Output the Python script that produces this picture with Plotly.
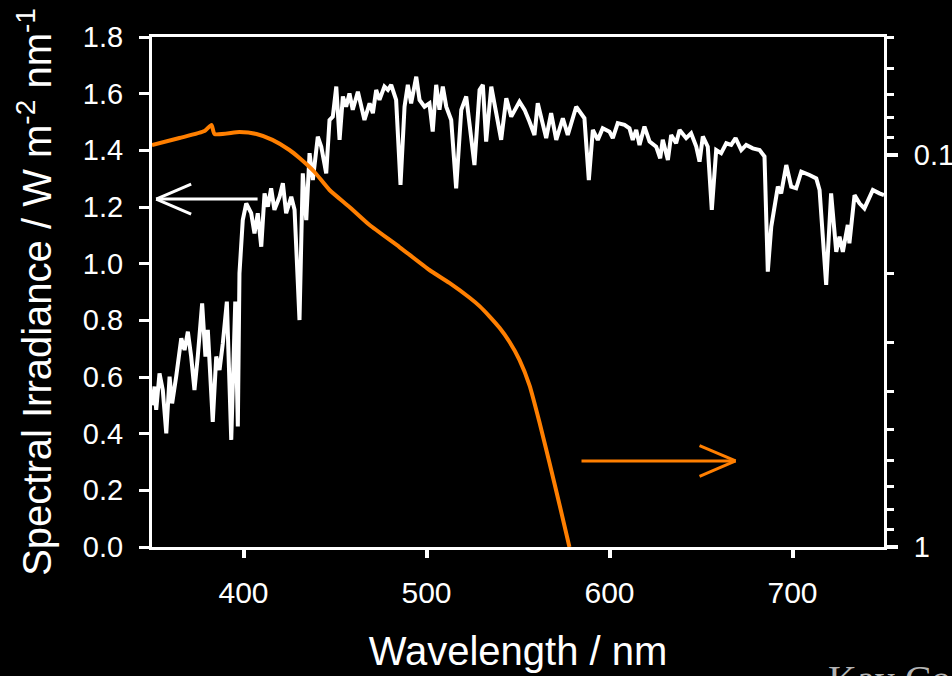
import math
import plotly.graph_objects as go

# ---- data ----
# Solar spectral irradiance (left axis, W m^-2 nm^-1)
irr_wl = [350.0, 351.4, 352.3, 354.1, 355.9, 357.8, 359.6, 361.0, 363.2, 366.0, 367.8, 369.6,
          371.4, 373.2, 375.0, 377.4, 379.2, 380.5, 383.2, 385.1, 386.9, 388.7, 390.9, 393.3,
          395.5, 396.9, 397.8, 398.7, 399.6, 401.5, 404.2, 406.0, 407.8, 409.7, 411.5, 413.3,
          415.1, 416.9, 419.7, 421.5, 423.3, 426.1, 427.9, 430.6, 432.4, 434.3, 436.1, 437.9,
          440.6, 442.5, 445.2, 447.0, 448.8, 450.7, 452.5, 454.3, 456.1, 457.9, 459.7, 462.5,
          464.3, 466.1, 468.9, 470.7, 472.5, 474.3, 477.0, 478.9, 480.7, 483.4, 485.8, 488.0,
          489.8, 491.6, 494.4, 496.2, 498.9, 501.6, 503.4, 505.3, 507.1, 508.9, 510.8, 513.5,
          516.2, 519.0, 521.7, 523.5, 526.2, 529.0, 530.8, 532.6, 535.4, 538.1, 540.8, 543.6,
          546.3, 550.8, 553.6, 556.3, 559.0, 560.8, 565.4, 568.1, 570.9, 574.5, 577.2, 581.8,
          586.3, 588.7, 590.9, 593.6, 596.3, 600.0, 601.8, 604.5, 608.2, 610.9, 612.7, 614.6,
          616.4, 619.1, 621.9, 625.5, 627.7, 629.1, 631.9, 633.7, 636.4, 638.3, 641.9, 644.6,
          647.4, 649.2, 651.0, 653.7, 655.9, 658.3, 661.0, 663.8, 666.5, 668.9, 672.0, 674.7,
          678.3, 682.0, 684.7, 686.5, 688.4, 692.0, 693.8, 696.6, 699.3, 702.0, 704.8, 709.3,
          713.0, 714.8, 718.4, 721.1, 723.9, 725.7, 727.5, 730.2, 731.1, 733.9, 736.6, 739.3,
          741.2, 743.9, 747.5, 750.0]
irr_val = [0.50, 0.566, 0.484, 0.613, 0.554, 0.401, 0.601, 0.507, 0.601, 0.737, 0.695, 0.760,
           0.672, 0.554, 0.672, 0.860, 0.672, 0.766, 0.442, 0.672, 0.625, 0.719, 0.866, 0.378,
           0.866, 0.425, 0.966, 1.048, 1.154, 1.213, 1.178, 1.107, 1.178, 1.060, 1.248, 1.201,
           1.266, 1.190, 1.236, 1.284, 1.178, 1.236, 1.190, 0.801, 1.319, 1.154, 1.390, 1.295,
           1.448, 1.413, 1.319, 1.507, 1.519, 1.625, 1.437, 1.590, 1.554, 1.601, 1.543, 1.607,
           1.554, 1.507, 1.566, 1.531, 1.613, 1.578, 1.625, 1.613, 1.631, 1.578, 1.278, 1.554,
           1.631, 1.566, 1.660, 1.578, 1.554, 1.566, 1.466, 1.631, 1.543, 1.625, 1.554, 1.507,
           1.266, 1.543, 1.590, 1.496, 1.348, 1.613, 1.631, 1.431, 1.625, 1.531, 1.437, 1.584,
           1.519, 1.572, 1.543, 1.501, 1.454, 1.566, 1.443, 1.531, 1.437, 1.513, 1.454, 1.554,
           1.513, 1.295, 1.472, 1.437, 1.478, 1.466, 1.443, 1.496, 1.490, 1.478, 1.437, 1.472,
           1.419, 1.484, 1.431, 1.413, 1.372, 1.437, 1.366, 1.454, 1.425, 1.472, 1.443, 1.460,
           1.413, 1.360, 1.449, 1.413, 1.190, 1.401, 1.390, 1.425, 1.419, 1.443, 1.401, 1.419,
           1.407, 1.401, 1.378, 0.972, 1.131, 1.272, 1.248, 1.348, 1.272, 1.266, 1.325, 1.313,
           1.301, 1.260, 0.925, 1.248, 1.042, 1.095, 1.042, 1.137, 1.072, 1.242, 1.213, 1.195,
           1.225, 1.260, 1.248, 1.242]

# Orange curve (right axis, log scale, reversed)
abs_wl = [350.0, 365.0, 378.7, 382.5, 384.2, 397.8, 407.1, 415.8, 425.1, 430.6, 438.8, 447.0,
          457.9, 468.9, 485.2, 501.6, 512.5, 523.4, 529.0, 534.4, 539.9, 545.4, 550.8, 556.3,
          561.7, 567.2, 572.7, 578.1]
abs_val = [0.0943, 0.0905, 0.0869, 0.0838, 0.0884, 0.0874, 0.0884, 0.0915, 0.0971, 0.1018,
           0.1105, 0.1228, 0.1357, 0.1509, 0.1717, 0.1965, 0.2120, 0.2310, 0.2430, 0.2580,
           0.2760, 0.3000, 0.3330, 0.3870, 0.4800, 0.6100, 0.7800, 1.0]

x_ticks = [400, 500, 600, 700]
y_ticks = [0.0, 0.2, 0.4, 0.6, 0.8, 1.0, 1.2, 1.4, 1.6, 1.8]
y2_major = [0.1, 1]
y2_major_text = ["0.1", "1"]
y2_minor = [0.05, 0.06, 0.07, 0.08, 0.09, 0.2, 0.3, 0.4, 0.5, 0.6, 0.7, 0.8, 0.9]

WHITE = "#ffffff"
ORANGE = "#ff7f00"
FONT = "Arial, Liberation Sans, sans-serif"

fig = go.Figure()
fig.add_trace(go.Scatter(x=irr_wl, y=irr_val, mode="lines",
                         line=dict(color=WHITE, width=4), yaxis="y", showlegend=False))
fig.add_trace(go.Scatter(x=abs_wl, y=abs_val, mode="lines",
                         line=dict(color=ORANGE, width=4, shape="spline", smoothing=0.5),
                         yaxis="y2", showlegend=False))

# open arrows (annotating which axis each curve belongs to)
def open_arrow(x0, x1, yc, dy, headx, color, yref):
    shapes = [
        dict(type="line", x0=x0, x1=x1, y0=yc, y1=yc),
        dict(type="line", x0=x1, x1=headx, y0=yc, y1=yc + dy),
        dict(type="line", x0=x1, x1=headx, y0=yc, y1=yc - dy),
    ]
    for s in shapes:
        s.update(xref="x", yref=yref, line=dict(color=color, width=3))
        fig.add_shape(**s)

open_arrow(407.7, 352.3, 1.228, 0.053, 371.4, WHITE, "y")
open_arrow(584.7, 668.9, 0.3036, 0.054, 649.2, ORANGE, "y")

fig.add_annotation(text="Kay Co", xref="paper", yref="paper", x=0.921, y=-0.211,
                   xanchor="left", yanchor="top", showarrow=False,
                   font=dict(family="Liberation Serif, Times New Roman, serif", size=40,
                             color="#b4b4b4"))

fig.update_layout(
    width=952, height=676,
    margin=dict(l=152, r=68, t=37, b=129),
    paper_bgcolor="black", plot_bgcolor="black",
    font=dict(family=FONT, color=WHITE),
    xaxis=dict(
        range=[350, 750], tickvals=x_ticks, ticks="outside", ticklen=8, tickwidth=4,
        tickcolor=WHITE, showline=True, linecolor=WHITE, linewidth=3, mirror=True,
        showgrid=False, zeroline=False, tickfont=dict(size=30, color=WHITE),
        ticklabelstandoff=9, automargin=False,
        title=dict(text="Wavelength / nm", font=dict(size=40, color=WHITE), standoff=29),
    ),
    yaxis=dict(
        range=[0, 1.8], tickvals=y_ticks, tickformat=".1f", ticks="outside", ticklen=10,
        tickwidth=3, tickcolor=WHITE, showline=True, linecolor=WHITE, linewidth=3,
        showgrid=False, zeroline=False, tickfont=dict(size=29, color=WHITE),
        ticklabelstandoff=10, automargin=False,
        title=dict(text="Spectral Irradiance / W m<sup>-2</sup> nm<sup>-1</sup>",
                   font=dict(size=40, color=WHITE), standoff=19),
    ),
    yaxis2=dict(
        overlaying="y", side="right", type="log",
        range=[0, math.log10(0.05)], automargin=False,
        tickvals=y2_major, ticktext=y2_major_text, ticks="outside", ticklen=11,
        tickwidth=4, tickcolor=WHITE, showline=True, linecolor=WHITE, linewidth=3,
        showgrid=False, zeroline=False, tickfont=dict(size=29, color=WHITE),
        ticklabelstandoff=10,
        minor=dict(tickvals=y2_minor, ticks="outside", ticklen=7, tickwidth=3,
                   tickcolor=WHITE, showgrid=False),
    ),
)

fig.write_html("out.html")
